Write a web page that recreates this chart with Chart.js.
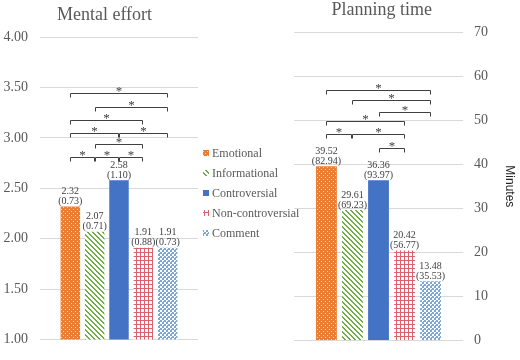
<!DOCTYPE html>
<html>
<head>
<meta charset="utf-8">
<script src="https://cdn.jsdelivr.net/npm/chart.js@4/dist/chart.umd.min.js"></script>
<style>
  body { margin: 0; background: #fff; }
  #wrap { position: relative; width: 520px; height: 360px; overflow: hidden; }
  canvas { position: absolute; top: 0; }
  #effort { left: 0; }
  #planning { left: 260px; }
</style>
</head>
<body>
<div id="wrap">
  <canvas id="effort" width="300" height="360"></canvas>
  <canvas id="planning" width="260" height="360"></canvas>
</div>
<script>
const groups = ['Emotional', 'Informational', 'Controversial', 'Non-controversial', 'Comment'];

const effortMeans = [2.32, 2.07, 2.58, 1.91, 1.91];
const effortSDs = [0.73, 0.71, 1.10, 0.88, 0.73];
const effortTicks = [1, 1.5, 2, 2.5, 3, 3.5, 4];

const planMeans = [39.52, 29.61, 36.36, 20.42, 13.48];
const planSDs = [82.94, 69.23, 93.97, 56.77, 35.53];
const planTicks = [0, 10, 20, 30, 40, 50, 60, 70];

// significant pairs: [from group, to group, bracket height in axis units]
const effortPairs = [[0, 4, 3.44], [1, 4, 3.31], [0, 3, 3.18], [0, 2, 3.05], [2, 4, 3.05],
                     [1, 3, 2.94], [0, 1, 2.81], [1, 2, 2.81], [2, 3, 2.81]];
const planPairs = [[0, 4, 56.9], [1, 4, 54.5], [2, 4, 51.9], [0, 3, 49.7],
                   [0, 1, 46.8], [1, 3, 46.8], [2, 3, 43.8]];

const serif = '"Liberation Serif", "Times New Roman", serif';

function makePattern(size, bg, fg, hit) {
  const c = document.createElement('canvas');
  c.width = size; c.height = size;
  const g = c.getContext('2d');
  g.fillStyle = bg;
  g.fillRect(0, 0, size, size);
  g.fillStyle = fg;
  for (let x = 0; x < size; x++)
    for (let y = 0; y < size; y++)
      if (hit(x, y)) g.fillRect(x, y, 1, 1);
  return g.createPattern(c, 'repeat');
}

const fills = [
  makePattern(4, '#ED7D31', 'rgba(255,235,215,0.8)', (x, y) => (x == 1 && y == 1) || (x == 3 && y == 3)),
  makePattern(5, '#ffffff', '#70AD47', (x, y) => ((x - y + 10) % 5) < 2),
  '#4472C4',
  makePattern(4, '#ffffff', '#D9626B', (x, y) => x == 0 || y == 0),
  makePattern(4, '#ffffff', '#7BA7D6', (x, y) => ((x >> 1) + (y >> 1)) % 2 == 0 || (x == 3 && y == 1))
];

// bar labels, significance brackets, panel title and legend
const panelExtras = {
  id: 'panelExtras',
  afterDatasetsDraw(chart, args, opts) {
    const ctx = chart.ctx;
    const ys = chart.scales.y;
    const barX = i => chart.getDatasetMeta(i).data[0].x;
    ctx.save();
    ctx.textAlign = 'center';
    ctx.textBaseline = 'alphabetic';
    ctx.fillStyle = '#404040';
    ctx.font = '10px ' + serif;
    chart.data.datasets.forEach((ds, i) => {
      const bar = chart.getDatasetMeta(i).data[0];
      ctx.fillText(ds.data[0].toFixed(2), bar.x, bar.y - 12.5);
      ctx.fillText('(' + opts.sd[i].toFixed(2) + ')', bar.x, bar.y - 2.5);
    });

    ctx.strokeStyle = '#404040';
    ctx.lineWidth = 1;
    ctx.font = '13px ' + serif;
    opts.pairs.forEach(([a, b, v]) => {
      const x1 = Math.round(barX(a)) + 0.5, x2 = Math.round(barX(b)) - 0.5;
      const py = Math.round(ys.getPixelForValue(v)) + 0.5;
      ctx.beginPath();
      ctx.moveTo(x1, py + 4);
      ctx.lineTo(x1, py);
      ctx.lineTo(x2, py);
      ctx.lineTo(x2, py + 4);
      ctx.stroke();
      ctx.fillText('*', (x1 + x2) / 2, py + 1.5);
    });

    ctx.fillStyle = '#595959';
    ctx.font = '18px ' + serif;
    ctx.fillText(opts.title, opts.titleX, opts.titleY);

    if (opts.legend) {
      ctx.textAlign = 'left';
      ctx.textBaseline = 'middle';
      ctx.font = '12px ' + serif;
      chart.data.datasets.forEach((ds, i) => {
        const ry = opts.legend.y + i * opts.legend.step;
        ctx.fillStyle = ds.backgroundColor;
        ctx.fillRect(opts.legend.x, ry - 3, 6, 6);
        ctx.fillStyle = '#595959';
        ctx.fillText(ds.label, opts.legend.x + 9, ry + 1);
      });
    }
    ctx.restore();
  }
};

function datasetsFor(values) {
  return groups.map((g, i) => ({
    label: g,
    data: [values[i]],
    backgroundColor: fills[i],
    borderWidth: 0,
    categoryPercentage: 0.77,
    barPercentage: 0.8
  }));
}

new Chart(document.getElementById('effort'), {
  type: 'bar',
  data: { labels: [''], datasets: datasetsFor(effortMeans) },
  plugins: [panelExtras],
  options: {
    responsive: false,
    animation: false,
    layout: { padding: { left: 0, top: 37, right: 102, bottom: 12 } },
    scales: {
      x: { display: false },
      y: {
        min: 1, max: 4,
        afterBuildTicks: s => { s.ticks = effortTicks.map(v => ({ value: v })); },
        afterFit: s => { s.width = 40; },
        grid: { color: '#d9d9d9', drawTicks: false },
        border: { display: false },
        ticks: {
          padding: 12,
          color: '#595959',
          font: { family: serif, size: 14 },
          callback: v => Number(v).toFixed(2)
        }
      }
    },
    plugins: {
      legend: { display: false },
      tooltip: { enabled: false },
      panelExtras: {
        sd: effortSDs, pairs: effortPairs,
        title: 'Mental effort', titleX: 104.5, titleY: 20,
        legend: { x: 203, y: 153, step: 20 }
      }
    }
  }
});

new Chart(document.getElementById('planning'), {
  type: 'bar',
  data: { labels: [''], datasets: datasetsFor(planMeans) },
  plugins: [panelExtras],
  options: {
    responsive: false,
    animation: false,
    layout: { padding: { left: 34, top: 32, right: 0, bottom: 8 } },
    scales: {
      x: { display: false },
      y: {
        position: 'right',
        min: 0, max: 70,
        afterBuildTicks: s => { s.ticks = planTicks.map(v => ({ value: v })); },
        afterFit: s => { s.width = 57; },
        grid: { color: '#d9d9d9', drawTicks: false },
        border: { display: false },
        ticks: {
          padding: 11,
          color: '#595959',
          font: { family: serif, size: 14 }
        },
        title: {
          display: true,
          text: 'Minutes',
          color: '#262626',
          padding: { top: 3 },
          font: { family: '"Liberation Sans", Arial, sans-serif', size: 12 }
        }
      }
    },
    plugins: {
      legend: { display: false },
      tooltip: { enabled: false },
      panelExtras: {
        sd: planSDs, pairs: planPairs,
        title: 'Planning time', titleX: 121.7, titleY: 15
      }
    }
  }
});
</script>
</body>
</html>
